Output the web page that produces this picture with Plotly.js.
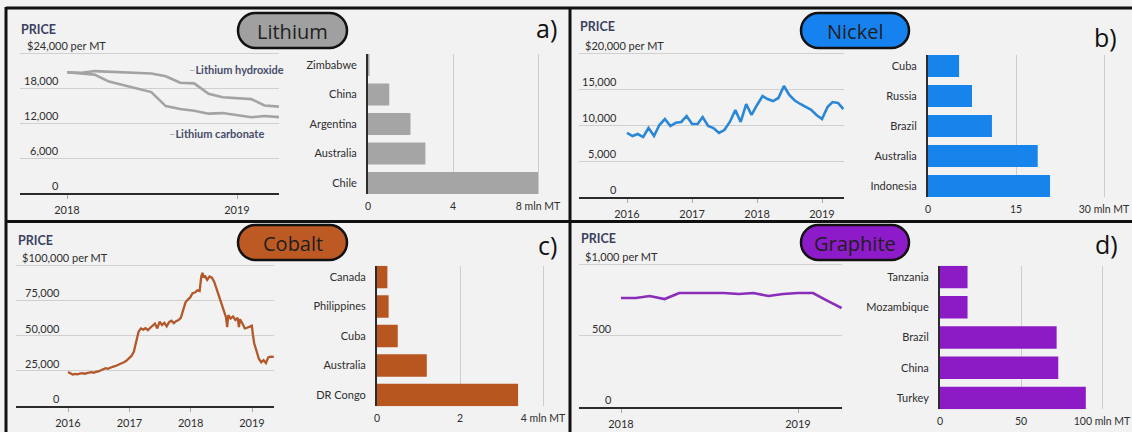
<!DOCTYPE html>
<html>
<head>
<meta charset="utf-8">
<script src="https://cdn.plot.ly/plotly-3.0.1.min.js"></script>
<style>
  html, body { margin: 0; padding: 0; background: #f2f2f2; }
  #chart { width: 1132px; height: 432px; }
</style>
</head>
<body>
<div id="chart"></div>
<script>
// ---------------- data ----------------
// Lithium, monthly prices in $ per metric ton
const lithiumMonths = ['2018-01-01','2018-02-01','2018-03-01','2018-04-01','2018-05-01','2018-06-01','2018-07-01','2018-08-01',
  '2018-09-01','2018-10-01','2018-11-01','2018-12-01','2019-01-01','2019-02-01','2019-03-01','2019-04-01'];
const lithiumHydroxide = [20700,20600,20900,20800,20700,20600,20500,20000,18900,18800,17000,16400,16300,16100,15000,14800];
const lithiumCarbonate = [20700,20500,20300,19100,18500,17900,17300,14900,14400,14100,13600,13700,13400,13000,13200,13000];
const lithiumCountries = ['Zimbabwe','China','Argentina','Australia','Chile'];
const lithiumReserves = [0.07, 1.0, 2.0, 2.7, 8.0];

// Nickel, monthly prices
const nickelMonths = ['2016-01-01','2016-02-01','2016-03-01','2016-04-01','2016-05-01','2016-06-01','2016-07-01','2016-08-01',
  '2016-09-01','2016-10-01','2016-11-01','2016-12-01','2017-01-01','2017-02-01','2017-03-01','2017-04-01','2017-05-01',
  '2017-06-01','2017-07-01','2017-08-01','2017-09-01','2017-10-01','2017-11-01','2017-12-01','2018-01-01','2018-02-01',
  '2018-03-01','2018-04-01','2018-05-01','2018-06-01','2018-07-01','2018-08-01','2018-09-01','2018-10-01','2018-11-01',
  '2018-12-01','2019-01-01','2019-02-01','2019-03-01','2019-04-01','2019-05-01'];
const nickelPrice = [8900,8470,8750,8330,9580,8470,10000,10830,9860,10300,10420,11250,10140,10140,11110,9860,9580,
  8900,9300,10420,12080,10420,12900,11390,12780,14030,13610,13330,13750,15420,14170,13400,12920,12500,12100,
  11390,10830,12500,13190,13060,12220];
const nickelCountries = ['Cuba','Russia','Brazil','Australia','Indonesia'];
const nickelReserves = [5.3, 7.5, 10.9, 18.7, 20.8];

// Cobalt, roughly fortnightly prices
const cobaltDates = ['2016-01-01','2016-01-15','2016-01-29','2016-02-12','2016-02-26','2016-03-11','2016-03-25','2016-04-08',
  '2016-04-22','2016-05-06','2016-05-20','2016-06-03','2016-06-17','2016-07-01','2016-07-15','2016-07-29','2016-08-12',
  '2016-08-26','2016-09-09','2016-09-23','2016-10-07','2016-10-21','2016-11-04','2016-11-18','2016-12-02','2016-12-16',
  '2016-12-30','2017-01-13','2017-01-27','2017-02-06','2017-02-15','2017-02-24','2017-03-10','2017-03-24','2017-04-07',
  '2017-04-21','2017-05-05','2017-05-19','2017-06-02','2017-06-16','2017-06-30','2017-07-14','2017-07-28','2017-08-11',
  '2017-08-25','2017-09-08','2017-09-22','2017-10-06','2017-10-20','2017-11-03','2017-11-17','2017-12-01','2017-12-15',
  '2017-12-29','2018-01-12','2018-01-26','2018-02-09','2018-02-23','2018-03-05','2018-03-12','2018-03-19','2018-03-26',
  '2018-04-09','2018-04-23','2018-05-07','2018-05-21','2018-06-04','2018-06-18','2018-07-02','2018-07-16','2018-07-30',
  '2018-08-06','2018-08-13','2018-08-27','2018-09-10','2018-09-24','2018-10-08','2018-10-15','2018-10-22','2018-11-05',
  '2018-11-19','2018-12-03','2018-12-17','2018-12-31','2019-01-07','2019-01-14','2019-01-28','2019-02-11','2019-02-25',
  '2019-03-11','2019-03-25','2019-04-08','2019-04-22','2019-05-11'];
const cobaltPrice = [24100,23000,22300,22800,22400,22900,23300,22900,
  23500,23700,24000,23600,24300,24500,25300,26000,26800,
  26400,27200,27800,28200,28900,29600,30400,31200,32400,
  33800,35500,38500,44000,49000,52500,55000,54200,55200,
  53800,55500,56800,58500,55000,59800,57400,59000,56500,
  59500,60500,58800,60200,61000,62500,68000,73500,75500,
  77000,80000,80500,82000,81500,92000,94400,91000,92500,
  89500,91800,91000,88000,83000,78000,73000,68000,63000,
  56000,64500,62000,63500,61000,62500,56000,61500,58500,
  55000,55500,56000,57000,50000,44500,39000,33500,31000,
  32500,30500,34500,35000,34800];
const cobaltCountries = ['Canada','Philippines','Cuba','Australia','DR Congo'];
const cobaltReserves = [0.25, 0.28, 0.5, 1.2, 3.4];

// Graphite, monthly prices
const graphiteMonths = ['2018-01-01','2018-02-01','2018-03-01','2018-04-01','2018-05-01','2018-06-01','2018-07-01','2018-08-01',
  '2018-09-01','2018-10-01','2018-11-01','2018-12-01','2019-01-01','2019-02-01','2019-03-01','2019-04-01'];
const graphitePrice = [762,762,776,755,797,797,797,797,790,797,776,790,797,797,745,692];
const graphiteCountries = ['Tanzania','Mozambique','Brazil','China','Turkey'];
const graphiteReserves = [17, 17, 72, 73, 90];

// tick labels
const lithiumYTicks = [0, 6000, 12000, 18000, 24000];
const lithiumYText = ['0', '6,000', '12,000', '18,000', '$24,000 per MT'];
const nickelYTicks = [0, 5000, 10000, 15000, 20000];
const nickelYText = ['0', '5,000', '10,000', '15,000', '$20,000 per MT'];
const cobaltYTicks = [0, 25000, 50000, 75000, 100000];
const cobaltYText = ['0', '25,000', '50,000', '75,000', '$100,000 per MT'];
const graphiteYTicks = [0, 500, 1000];
const graphiteYText = ['0', '500', '$1,000 per MT'];
const years1819 = ['2018-01-01', '2019-01-01'];
const years1819Text = ['2018', '2019'];
const years1619 = ['2016-01-01', '2017-01-01', '2018-01-01', '2019-01-01'];
const years1619Text = ['2016', '2017', '2018', '2019'];
const lithiumXTicks = [0, 4, 8];
const lithiumXText = ['0', '4', '8 mln MT'];
const nickelXTicks = [0, 15, 30];
const nickelXText = ['0', '15', '30 mln MT'];
const cobaltXTicks = [0, 2, 4];
const cobaltXText = ['0', '2', '4 mln MT'];
const graphiteXTicks = [0, 50, 100];
const graphiteXText = ['0', '50', '100 mln MT'];

// ---------------- helpers ----------------
const W = 1132, H = 432;
const FONT = 'Lato, "Open Sans", sans-serif';
const TITLE_FONT = '"Open Sans", "Noto Sans", sans-serif';
const INK = '#2e2e2e';
const fx = p => p / W;
const fy = p => 1 - p / H;
const ms = d => new Date(d + 'T00:00:00Z').getTime();
// value range for a pixel span, given two pixel/value reference pairs
function span(p0, v0, p1, v1, a, b) {
  const k = (v1 - v0) / (p1 - p0);
  return [v0 + (a - p0) * k, v0 + (b - p0) * k];
}
const axId = (c, n) => c + (n === 1 ? '' : n);
const axKey = (c, n) => c + 'axis' + (n === 1 ? '' : n);

const traces = [];
const annotations = [];
const shapes = [];
const layout = {
  width: W, height: H,
  margin: { l: 0, r: 0, t: 0, b: 0, pad: 0 },
  paper_bgcolor: '#f2f2f2',
  plot_bgcolor: 'rgba(0,0,0,0)',
  showlegend: false,
  hovermode: false,
  font: { family: FONT, color: INK, size: 11 }
};

function addLineChart(n, g, yTicks, yText, xTicks, xText) {
  layout[axKey('x', n)] = {
    domain: [fx(g.left), fx(g.right)],
    anchor: axId('y', n),
    type: 'date',
    range: span(g.xRef[0], ms(g.xRef[1]), g.xRef[2], ms(g.xRef[3]), g.left, g.right),
    showgrid: false, zeroline: false,
    showline: true, linecolor: '#2b2b2b', linewidth: 2,
    ticks: 'outside', ticklen: 4, tickwidth: 1, tickcolor: '#a8a8a8',
    tickvals: xTicks, ticktext: xText,
    ticklabelstandoff: 2,
    tickfont: { family: FONT, size: 11, color: INK }
  };
  layout[axKey('y', n)] = {
    domain: [fy(g.bottom), fy(g.top)],
    anchor: axId('x', n),
    range: span(g.yRef[0], g.yRef[1], g.yRef[2], g.yRef[3], g.bottom, g.top),
    showgrid: true, gridcolor: '#d0d0d0', gridwidth: 1,
    zeroline: false, showline: false, ticks: '',
    tickvals: yTicks, showticklabels: false
  };
  yTicks.forEach((v, i) => {
    const top = i === yTicks.length - 1;
    annotations.push({
      xref: 'paper', yref: axId('y', n),
      x: fx(top ? g.unitLeft : g.tickRight), xanchor: top ? 'left' : 'right',
      y: v, yanchor: 'bottom', yshift: -1,
      text: yText[i], showarrow: false,
      font: { family: FONT, size: 11, color: INK }
    });
  });
  annotations.push({
    xref: 'paper', yref: 'paper', x: fx(g.priceX), y: fy(g.priceY),
    xanchor: 'left', yanchor: 'middle', text: '<b>PRICE</b>', showarrow: false,
    font: { family: FONT, size: 12.5, color: '#3b4160' }
  });
}

function addBarChart(n, g, cats, vals, color, xTicks, xText) {
  const s = (g.c4 - g.c0) / 4;
  const e = g.h / (2 * s);
  layout[axKey('x', n)] = {
    domain: [fx(g.left), fx(g.right)],
    anchor: axId('y', n),
    range: span(g.xRef[0], g.xRef[1], g.xRef[2], g.xRef[3], g.left, g.right),
    showgrid: true, gridcolor: '#cdcdcd', gridwidth: 1,
    zeroline: false, showline: false, ticks: '',
    tickvals: xTicks, ticktext: xText,
    ticklabelstandoff: 4,
    ticklabeloverflow: 'allow',
    tickfont: { family: FONT, size: 10.5, color: INK }
  };
  layout[axKey('y', n)] = {
    domain: [fy(g.c4 + g.h / 2), fy(g.c0 - g.h / 2)],
    anchor: axId('x', n),
    type: 'category',
    range: [4 + e, -e],
    showgrid: false, zeroline: false,
    showline: true, linecolor: '#2b2b2b', linewidth: 2,
    ticks: 'outside', ticklen: 7, tickcolor: 'rgba(0,0,0,0)',
    tickfont: { family: FONT, size: 11, color: INK }
  };
  traces.push({
    type: 'bar', orientation: 'h',
    x: vals, y: cats, width: 2 * e,
    marker: { color: color, line: { width: 0 } },
    xaxis: axId('x', n), yaxis: axId('y', n),
    hoverinfo: 'skip'
  });
}

function addLine(n, x, y, color, width) {
  traces.push({
    type: 'scatter', mode: 'lines', x: x, y: y,
    line: { color: color, width: width },
    xaxis: axId('x', n), yaxis: axId('y', n),
    hoverinfo: 'skip'
  });
}

// rounded badge holding the metal name
function addBadge(x0, y0, x1, y1, fill, text) {
  const r = (y1 - y0) / 2, k = 0.5523 * r, yc = (y0 + y1) / 2;
  const P = (x, y) => fx(x).toFixed(5) + ',' + fy(y).toFixed(5);
  const path = 'M' + P(x0 + r, y0) + ' L' + P(x1 - r, y0) +
    ' C' + P(x1 - r + k, y0) + ' ' + P(x1, yc - k) + ' ' + P(x1, yc) +
    ' C' + P(x1, yc + k) + ' ' + P(x1 - r + k, y1) + ' ' + P(x1 - r, y1) +
    ' L' + P(x0 + r, y1) +
    ' C' + P(x0 + r - k, y1) + ' ' + P(x0, yc + k) + ' ' + P(x0, yc) +
    ' C' + P(x0, yc - k) + ' ' + P(x0 + r - k, y0) + ' ' + P(x0 + r, y0) + ' Z';
  shapes.push({ type: 'path', xref: 'paper', yref: 'paper', path: path,
    fillcolor: fill, line: { color: '#111111', width: 2.5 }, layer: 'above' });
  annotations.push({ xref: 'paper', yref: 'paper', x: fx((x0 + x1) / 2), y: fy(yc + 1),
    xanchor: 'center', yanchor: 'middle', text: text, showarrow: false,
    font: { family: TITLE_FONT, size: 20, color: '#1e1e1e' } });
}

function addLetter(x, y, text) {
  annotations.push({ xref: 'paper', yref: 'paper', x: fx(x), y: fy(y),
    xanchor: 'center', yanchor: 'middle', text: text, showarrow: false,
    font: { family: TITLE_FONT, size: 25, color: '#111111' } });
}

// ---------------- a) Lithium ----------------
addLineChart(1, { left: 20, right: 279, top: 45, bottom: 193,
  xRef: [67, '2018-01-01', 237, '2019-01-01'], yRef: [193, 0, 53, 24000],
  tickRight: 61, unitLeft: 25, priceX: 19, priceY: 29 },
  lithiumYTicks, lithiumYText, years1819, years1819Text);
addLine(1, lithiumMonths, lithiumHydroxide, '#a3a3a3', 2.6);
addLine(1, lithiumMonths, lithiumCarbonate, '#a3a3a3', 2.6);
annotations.push({ xref: 'paper', yref: 'paper', x: fx(187), y: fy(69), xanchor: 'left', yanchor: 'middle',
  text: '<span style="color:#a3a3a3">–</span><b>Lithium hydroxide</b>', showarrow: false,
  font: { family: FONT, size: 11, color: '#474d6b' } });
annotations.push({ xref: 'paper', yref: 'paper', x: fx(167), y: fy(133), xanchor: 'left', yanchor: 'middle',
  text: '<span style="color:#a3a3a3">–</span><b>Lithium carbonate</b>', showarrow: false,
  font: { family: FONT, size: 11, color: '#474d6b' } });
addBarChart(2, { left: 368, right: 546, xRef: [368, 0, 453, 4], c0: 65, c4: 183, h: 22 },
  lithiumCountries, lithiumReserves, '#a5a5a5', lithiumXTicks, lithiumXText);
addBadge(238, 13, 347, 48, '#a0a0a0', 'Lithium');
addLetter(546, 28, 'a)');

// ---------------- b) Nickel ----------------
addLineChart(3, { left: 579, right: 844, top: 45, bottom: 197,
  xRef: [627, '2016-01-01', 822, '2019-01-01'], yRef: [197, 0, 53, 20000],
  tickRight: 619, unitLeft: 583, priceX: 578, priceY: 26 },
  nickelYTicks, nickelYText, years1619, years1619Text);
addLine(3, nickelMonths, nickelPrice, '#2a87d6', 2.6);
addBarChart(4, { left: 928, right: 1110, xRef: [928, 0, 1016, 15], c0: 66, c4: 186, h: 22 },
  nickelCountries, nickelReserves, '#1784ec', nickelXTicks, nickelXText);
addBadge(801, 13, 909, 48, '#1682f0', 'Nickel');
addLetter(1105, 37, 'b)');

// ---------------- c) Cobalt ----------------
addLineChart(5, { left: 16, right: 274, top: 257, bottom: 406,
  xRef: [68, '2016-01-01', 252, '2019-01-01'], yRef: [406, 0, 265, 100000],
  tickRight: 62, unitLeft: 20, priceX: 16, priceY: 240 },
  cobaltYTicks, cobaltYText, years1619, years1619Text);
addLine(5, cobaltDates, cobaltPrice, '#b3582b', 2.3);
addBarChart(6, { left: 377, right: 550, xRef: [377, 0, 460, 2], c0: 277, c4: 395, h: 22.5 },
  cobaltCountries, cobaltReserves, '#b8561f', cobaltXTicks, cobaltXText);
addBadge(238, 225, 347, 260, '#bd5a23', 'Cobalt');
addLetter(547, 245, 'c)');

// ---------------- d) Graphite ----------------
addLineChart(7, { left: 579, right: 842, top: 255, bottom: 407,
  xRef: [621, '2018-01-01', 798, '2019-01-01'], yRef: [407, 0, 264, 1000],
  tickRight: 614, unitLeft: 583, priceX: 579, priceY: 239 },
  graphiteYTicks, graphiteYText, years1819, years1819Text);
addLine(7, graphiteMonths, graphitePrice, '#8a2db9', 2.6);
addBarChart(8, { left: 940, right: 1108, xRef: [940, 0, 1021, 50], c0: 277, c4: 398, h: 22.5 },
  graphiteCountries, graphiteReserves, '#8d1bc5', graphiteXTicks, graphiteXText);
addBadge(801, 225, 909, 260, '#8e1bc9', 'Graphite');
addLetter(1106, 244, 'd)');

// ---------------- panel frame ----------------
const frame = [
  [6, 8, 1132, 8],       // top edge
  [6, 7, 6, 432],        // left edge
  [570, 8, 570, 432],    // vertical divider
  [6, 221.5, 1132, 221.5] // horizontal divider
];
frame.forEach(([x0, y0, x1, y1]) => shapes.push({
  type: 'line', xref: 'paper', yref: 'paper',
  x0: fx(x0), y0: fy(y0), x1: fx(x1), y1: fy(y1),
  line: { color: '#111111', width: 3 }, layer: 'above'
}));

layout.annotations = annotations;
layout.shapes = shapes;

Plotly.newPlot('chart', traces, layout, { staticPlot: true, displayModeBar: false });
</script>
</body>
</html>
